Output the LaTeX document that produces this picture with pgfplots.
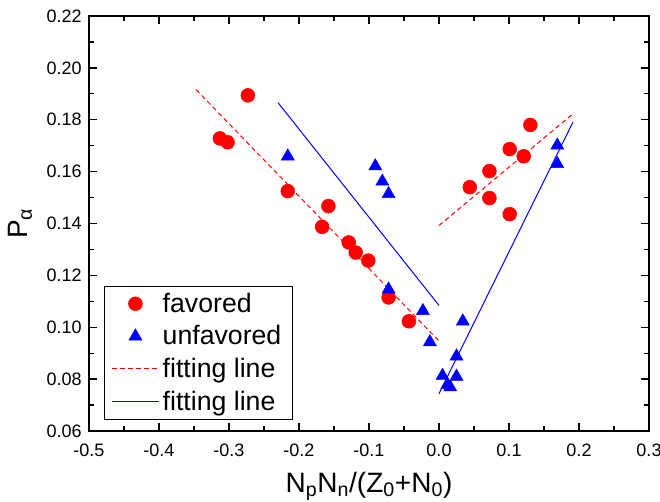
\documentclass[border=0pt]{standalone}
\usepackage{fontspec}
\setmainfont{Liberation Sans}
\usepackage{pgfplots}
\pgfplotsset{compat=1.18}

\begin{document}
\begin{tikzpicture}
\begin{axis}[
    scale only axis,
    width=420pt, height=311.25pt,
    xmin=-0.5, xmax=0.3,
    ymin=0.06, ymax=0.22,
    xtick={-0.5,-0.4,-0.3,-0.2,-0.1,0,0.1,0.2,0.3},
    ytick={0.06,0.08,0.10,0.12,0.14,0.16,0.18,0.20,0.22},
    minor x tick num=1,
    minor y tick num=1,
    tick align=inside,
    major tick length=6pt,
    minor tick length=3.5pt,
    every tick/.style={black, line width=1pt},
    axis line style={line width=1.1pt},
    scaled ticks=false,
    xticklabel={\fontsize{13.5}{15}\selectfont\pgfmathprintnumber[fixed, fixed zerofill, precision=1, assume math mode=true]{\tick}},
    yticklabel={\fontsize{13.5}{15}\selectfont\pgfmathprintnumber[fixed, fixed zerofill, precision=2, assume math mode=true]{\tick}},
    xticklabel style={yshift=-6pt},
    yticklabel style={xshift=-2pt},
    xlabel={N\textsubscript{p}N\textsubscript{n}/(Z\textsubscript{0}+N\textsubscript{0})},
    ylabel={P\textsubscript{α}},
    xlabel style={font=\fontsize{21}{24}\selectfont,
        at={([yshift=-46pt]axis description cs:0.5,0)}, anchor=base},
    ylabel style={font=\fontsize{21}{24}\selectfont,
        at={([xshift=-46pt]axis description cs:0,0.5)}, anchor=base, rotate=0},
    legend style={
        at={(rel axis cs:0.0268,0.35)}, anchor=north west,
        inner xsep=5.5pt, inner ysep=4.3pt,
        row sep=6.4pt,
        font=\fontsize{20}{22}\selectfont,
        nodes={text height=15.5pt, text depth=2.5pt, inner ysep=0pt, inner xsep=2.6pt},
    },
    legend cell align=left,
    legend image code/.code={
        \draw[mark repeat=2, mark phase=2, #1]
            plot coordinates {(0pt,0pt) (17.5pt,0pt) (35pt,0pt)};
    },
]

% favored
\addplot[only marks, mark=*, mark size=5.2pt, color=red, mark options={fill=red, draw=red}]
coordinates {
    (-0.313,0.1728) (-0.302,0.1713) (-0.273,0.1894) (-0.216,0.1525)
    (-0.158,0.1467) (-0.167,0.1387) (-0.129,0.1327) (-0.119,0.1288)
    (-0.101,0.1257) (-0.072,0.1115) (-0.043,0.1023)
    (0.044,0.1540) (0.072,0.1602) (0.072,0.1498) (0.101,0.1687)
    (0.101,0.1436) (0.121,0.1659) (0.1305,0.1780)
};

% unfavored
\addplot[only marks, mark=triangle*, mark size=5.6pt, color=blue, mark options={fill=blue, draw=blue}]
coordinates {
    (-0.216,0.1659) (-0.091,0.1621) (-0.081,0.1562) (-0.072,0.1514)
    (-0.072,0.1146) (-0.023,0.1063) (-0.013,0.0943) (0.034,0.1023)
    (0.025,0.0888) (0.005,0.0813) (0.025,0.0810) (0.012,0.0778)
    (0.016,0.0769) (0.169,0.1701) (0.169,0.1630)
};

% fitting lines, favored
\addplot[color=red, line width=0.75pt, dash pattern=on 3.5pt off 2.5pt, unbounded coords=jump]
coordinates {
    (-0.347,0.1916) (0.0,0.0947)
    (0.02,nan)
    (0.0,0.1392) (0.1905,0.1821)
};

% fitting lines, unfavored
\addplot[color=blue, line width=0.75pt, unbounded coords=jump]
coordinates {
    (-0.23,0.1866) (0.0,0.1084)
    (0.02,nan)
    (0.0,0.0744) (0.1914,0.1791)
};

\legend{favored, unfavored, fitting line, fitting line}
\end{axis}
\pgfresetboundingbox
\path[use as bounding box]
    ([shift={(-66.75pt,-53.25pt)}]current axis.south west)
    rectangle ([shift={(8.25pt,12pt)}]current axis.north east);
\end{tikzpicture}
\end{document}
